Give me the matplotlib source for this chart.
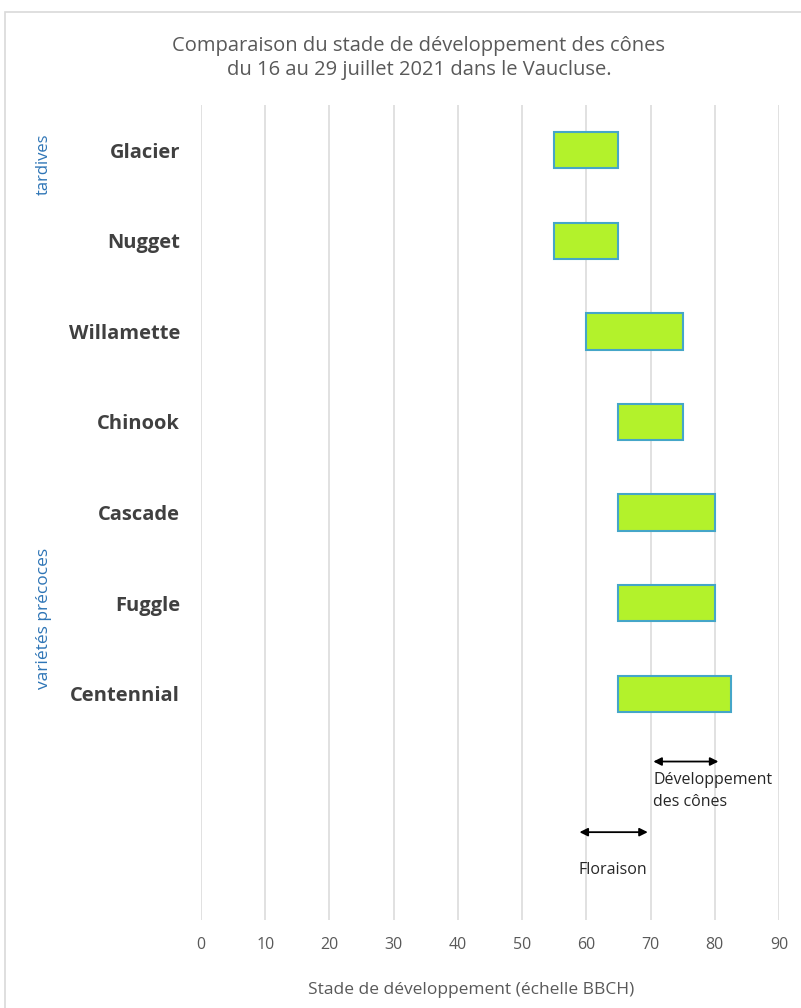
import matplotlib.pyplot as plt
from matplotlib.patches import Rectangle

# Hop varieties, top to bottom, with their BBCH stage range over the period
varieties = ["Glacier", "Nugget", "Willamette", "Chinook", "Cascade", "Fuggle", "Centennial"]
stade_debut = [55, 55, 60, 65, 65, 65, 65]
stade_fin = [65, 65, 75, 75, 80, 80, 82.5]

x_ticks = [0, 10, 20, 30, 40, 50, 60, 70, 80, 90]

# reference ranges shown under the bars
floraison = (58.5, 70)
developpement = (70, 81)

GRID = "#d9d9d9"
TEXT = "#595959"
DARK = "#404040"
BLUE = "#2e75b6"

plt.rcParams["font.family"] = ["Open Sans", "DejaVu Sans"]

fig = plt.figure(figsize=(8.01, 10.08), dpi=100)
fig.patch.set_facecolor("white")
fig.patches.append(Rectangle((5 / 801, -0.01), 1.0, 1 - 12 / 1008 + 0.01,
                             transform=fig.transFigure, fill=False,
                             edgecolor=GRID, linewidth=1.2))

ax = fig.add_axes([201 / 801, 88 / 1008, 578 / 801, 815 / 1008])
ypos = list(range(len(varieties)))
widths = [f - d for d, f in zip(stade_debut, stade_fin)]
ax.barh(ypos, widths, left=stade_debut, height=0.4,
        color="#b3f22b", edgecolor="#45a6c8", linewidth=1.5, zorder=3)

ax.set_xlim(0, 90)
ax.set_ylim(8.5, -0.5)
ax.set_xticks(x_ticks)
ax.set_xticklabels([str(t) for t in x_ticks], color=TEXT, fontsize=11.5)
ax.tick_params(axis="x", length=0, pad=12)
ax.set_yticks(ypos)
ax.set_yticklabels(varieties, color=DARK, fontsize=14.5, fontweight="bold")
ax.tick_params(axis="y", length=0, pad=15)
ax.grid(axis="x", color=GRID, linewidth=1.1, zorder=0)
for spine in ax.spines.values():
    spine.set_visible(False)

ax.set_xlabel("Stade de développement (échelle BBCH)", color=TEXT, fontsize=12.5)
ax.xaxis.set_label_coords(0.467, -0.076)

# range arrows
ax.annotate("", xy=(developpement[1], 6.75), xytext=(developpement[0], 6.75),
            arrowprops=dict(arrowstyle="<|-|>", color="black", lw=1.3, mutation_scale=12))
ax.annotate("", xy=(floraison[1], 7.53), xytext=(floraison[0], 7.53),
            arrowprops=dict(arrowstyle="<|-|>", color="black", lw=1.3, mutation_scale=12))
ax.text(70.4, 6.87, "Développement\ndes cônes", ha="left", va="top",
        fontsize=11.5, color="#262626", linespacing=1.45)
ax.text(58.8, 7.95, "Floraison", ha="left", va="center", fontsize=11.5, color="#262626")

fig.text(419 / 801, 1 - 58 / 1008, "Comparaison du stade de développement des cônes\n"
         "du 16 au 29 juillet 2021 dans le Vaucluse.",
         ha="center", va="center", color=TEXT, fontsize=14.5, linespacing=1.3)

fig.text(44 / 801, 1 - 164 / 1008, "tardives", rotation=90, ha="center", va="center",
         color=BLUE, fontsize=12)
fig.text(44 / 801, 1 - 618 / 1008, "variétés précoces", rotation=90, ha="center", va="center",
         color=BLUE, fontsize=12.5)

fig.savefig("out.png", dpi=100, facecolor="white")
